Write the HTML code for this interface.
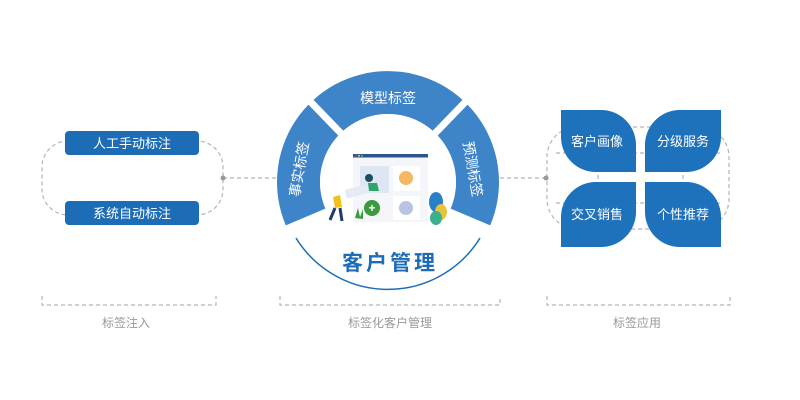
<!DOCTYPE html>
<html><head><meta charset="utf-8"><style>
body{margin:0;background:#fff;}
svg{display:block;font-family:"Liberation Sans","Noto Sans CJK SC",sans-serif;}
</style></head><body>
<svg width="800" height="400" viewBox="0 0 800 400">
<g fill="none" stroke="#b5b5b5" stroke-width="1.2" stroke-dasharray="4,3">
  <rect x="42" y="141" width="181" height="74" rx="26"/>
  <line x1="223" y1="178" x2="276" y2="178"/>
  <line x1="500" y1="178" x2="546" y2="178"/>
  <rect x="547" y="127" width="182" height="102" rx="30"/>
  <line x1="598" y1="133" x2="598" y2="233"/>
  <line x1="683" y1="133" x2="683" y2="233"/>
  <line x1="556" y1="153" x2="720" y2="153"/>
  <line x1="556" y1="203" x2="720" y2="203"/>
  <path d="M42 296 V305 H216 V296"/>
  <path d="M280 296 V305 H500 V296"/>
  <path d="M547 296 V305 H730 V296"/>
</g>
<circle cx="223" cy="178" r="2.5" fill="#999"/>
<circle cx="546" cy="178" r="2.5" fill="#999"/>
<rect x="65" y="131" width="134" height="24" rx="4" fill="#1d6db6"/>
<rect x="65" y="201" width="134" height="24" rx="4" fill="#1d6db6"/>
<text x="132" y="148" font-size="13" fill="#fff" text-anchor="middle">人工手动标注</text>
<text x="132" y="218" font-size="13" fill="#fff" text-anchor="middle">系统自动标注</text>
<!-- ring -->
<path d="M285.8 225.4 A111 111 0 1 1 490.2 225.4 L450.6 208.6 A68 68 0 1 0 325.4 208.6 Z" fill="#3d84c9"/>
<g stroke="#fff" stroke-width="7">
<line x1="388" y1="182" x2="304.6" y2="95.7"/>
<line x1="388" y1="182" x2="471.4" y2="95.7"/>
</g>
<circle cx="388" cy="182" r="68" fill="#fff"/>
<path d="M296 238 A108 108 0 0 0 480 238" fill="none" stroke="#1d6db6" stroke-width="1.5"/>
<text x="388" y="103" font-size="14" fill="#fff" text-anchor="middle">模型标签</text>
<text transform="translate(304,170) rotate(-80)" font-size="14" fill="#fff" text-anchor="middle">事实标签</text>
<text transform="translate(468,170) rotate(80)" font-size="14" fill="#fff" text-anchor="middle">预测标签</text>
<text x="390" y="270" font-size="21" font-weight="bold" fill="#1d6db6" text-anchor="middle" letter-spacing="3">客户管理</text>
<!-- illustration -->
<rect x="353" y="154" width="75" height="68" fill="#f4f6fa"/>
<rect x="353" y="154" width="75" height="3.5" fill="#2a5590"/>
<circle cx="356" cy="155.7" r="1" fill="#e33"/><circle cx="359" cy="155.7" r="1" fill="#fc0"/><circle cx="362" cy="155.7" r="1" fill="#3c6"/>
<rect x="360" y="166" width="29" height="27" fill="#dde6f2"/>
<rect x="393" y="166" width="27" height="25" fill="#fff"/>
<rect x="393" y="196" width="27" height="24" fill="#fff"/>
<circle cx="406" cy="178" r="7" fill="#f5b860"/>
<circle cx="406" cy="208" r="7" fill="#b8c4e0"/>
<circle cx="372" cy="208" r="8" fill="#3a9a3e"/>
<text x="372" y="212" font-size="12" fill="#fff" text-anchor="middle" font-weight="bold">+</text>
<rect x="345" y="186" width="30" height="9" rx="2" fill="#e5ebf5" transform="rotate(-15 360 190)"/>
<circle cx="369" cy="178" r="4" fill="#1b4d5e"/>
<path d="M368 183 l9 0 l2 8 l-10 0z" fill="#2ea36a"/>
<path d="M333 197 l7 -2 l2 12 l-7 1z" fill="#f2c21b"/>
<path d="M335 208 l-5 12 M340 208 l2 13" stroke="#1d3c73" stroke-width="3"/>
<ellipse cx="436" cy="202" rx="7" ry="10" fill="#2a7fc9"/>
<ellipse cx="441" cy="212" rx="6" ry="8" fill="#e8c23c"/>
<ellipse cx="436" cy="218" rx="6" ry="7" fill="#3bb08f"/>
<path d="M355 218 l3 -10 l2 9 l3 -8 l0 10z" fill="#3a9a3e"/>
<!-- petals -->
<g fill="#1e71bb">
<path d="M561 110 H601 A35 35 0 0 1 636 145 V172 H596 A35 35 0 0 1 561 137 Z"/>
<path d="M680 110 H721 V137 A35 35 0 0 1 686 172 H645 V145 A35 35 0 0 1 680 110 Z"/>
<path d="M596 182 H636 V212 A35 35 0 0 1 601 247 H561 V217 A35 35 0 0 1 596 182 Z"/>
<path d="M645 182 H686 A35 35 0 0 1 721 217 V247 H680 A35 35 0 0 1 645 212 Z"/>
</g>
<g font-size="13" fill="#fff" text-anchor="middle">
<text x="597" y="146">客户画像</text>
<text x="683" y="146">分级服务</text>
<text x="597" y="219">交叉销售</text>
<text x="683" y="219">个性推荐</text>
</g>
<g font-size="12" fill="#999" text-anchor="middle">
<text x="126" y="327">标签注入</text>
<text x="390" y="327">标签化客户管理</text>
<text x="637" y="327">标签应用</text>
</g>
</svg>
</body></html>
